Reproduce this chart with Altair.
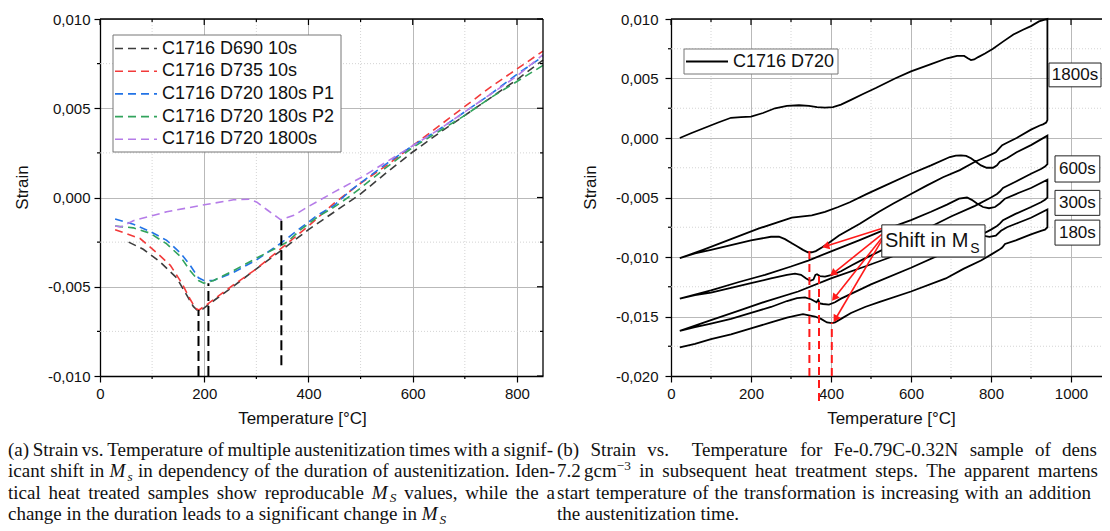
import math
import re
import altair as alt
import pandas as pd

# ---------------------------------------------------------------- (a) data
series_names = ["C1716 D690 10s", "C1716 D735 10s", "C1716 D720 180s P1",
                "C1716 D720 180s P2", "C1716 D720 1800s"]
series_colors = ["#3c3c3c", "#f23a3a", "#2273e6", "#32a35c", "#b57ce8"]

d690_T = [55, 83, 115, 147, 167, 179, 186, 195, 208, 250, 300, 346, 400, 450, 500,
          550, 600, 650, 700, 750, 800, 850]
d690_strain = [-0.0025, -0.0029, -0.0036, -0.0045, -0.0055, -0.0061, -0.0063, -0.0063,
               -0.0060, -0.0051, -0.0040, -0.0030, -0.0018, -0.0008, 0.0002, 0.0014,
               0.00255, 0.0036, 0.0046, 0.0056, 0.0066, 0.0077]
d735_T = [29, 77, 109, 135, 157, 173, 183, 190, 205, 256, 300, 350, 400, 450, 500,
          550, 600, 650, 700, 750, 800, 850]
d735_strain = [-0.0018, -0.0023, -0.0031, -0.0038, -0.0048, -0.0057, -0.0062, -0.0063,
               -0.0060, -0.0049, -0.0040, -0.0028, -0.0016, -0.0003, 0.0008, 0.0018,
               0.0029, 0.0040, 0.0051, 0.0062, 0.0072, 0.0082]
p1_T = [29, 64, 96, 128, 154, 173, 189, 199, 218, 256, 300, 340, 359, 385, 417, 449,
        481, 506, 550, 600, 650, 700, 750, 800, 850]
p1_strain = [-0.0012, -0.0015, -0.0019, -0.0024, -0.0031, -0.0038, -0.0045, -0.00465,
             -0.00465, -0.0042, -0.0035, -0.0027, -0.0023, -0.0017, -0.0010, -0.00045,
             0.0004, 0.00095, 0.0019, 0.0029, 0.0038, 0.0048, 0.0058, 0.0069, 0.0079]
p2_T = [29, 64, 96, 128, 154, 173, 189, 199, 218, 256, 300, 340, 359, 385, 417, 449,
        481, 506, 550, 600, 650, 700, 750, 800, 850]
p2_strain = [-0.0016, -0.0017, -0.0020, -0.0026, -0.0033, -0.0041, -0.00465, -0.0048,
             -0.00465, -0.0041, -0.0034, -0.0028, -0.0025, -0.0018, -0.0011, -0.00054,
             0.0001, 0.00067, 0.0017, 0.0028, 0.0037, 0.0046, 0.0056, 0.0065, 0.0074]
s1800_T = [29, 40, 64, 128, 192, 256, 288, 301, 321, 340, 347, 372, 400, 449, 506, 550,
           600, 650, 700, 750, 800, 850]
s1800_strain = [-0.0016, -0.00165, -0.0013, -0.0008, -0.00045, -0.00013, -0.0001,
                -0.00026, -0.0007, -0.0011, -0.00125, -0.0010, -0.0005, 0.0003, 0.0012,
                0.0020, 0.0029, 0.0038, 0.0048, 0.0058, 0.0068, 0.0080]

ms_a_T = [189, 208, 348]
ms_a_top = [-0.0063, -0.0048, -0.0013]
ms_a_bottom = [-0.0100, -0.0100, -0.0094]

# ---------------------------------------------------------------- (b) data
heat1800_T = [22, 50, 80, 118, 150, 175, 200, 230, 260, 290, 320, 345, 365, 385, 405, 425,
              450, 480, 512, 560, 600, 650, 690, 715, 733, 742, 750, 758, 768, 785, 805,
              830, 856, 880, 900, 920, 941]
heat1800_strain = [0.0, 0.0004, 0.0008, 0.0013, 0.0017, 0.00175, 0.0018, 0.0021, 0.0025,
                   0.0027, 0.00275, 0.0027, 0.0026, 0.00255, 0.0026, 0.0028, 0.0032,
                   0.0037, 0.0042, 0.0050, 0.0056, 0.0062, 0.0067, 0.0069, 0.0069, 0.0067,
                   0.00655, 0.0066, 0.0068, 0.0071, 0.0075, 0.0081, 0.0087, 0.0091, 0.0094,
                   0.0098, 0.0100]
cool1800_T = [941, 938, 930, 922, 900, 864, 840, 828, 820, 812, 800, 780, 760, 722, 680,
              639, 600, 556, 520, 472, 420, 395, 377, 362, 352, 342, 330, 315, 300, 285,
              270, 250, 200, 150, 100, 60, 22]
cool1800_strain = [0.0015, 0.0013, 0.00115, 0.00105, 0.0007, 0.0000, -0.0004, -0.0006,
                   -0.0009, -0.0012, -0.0014, -0.0017, -0.0020, -0.0027, -0.0033, -0.0040,
                   -0.0047, -0.0055, -0.0062, -0.0072, -0.0082, -0.0088, -0.0092, -0.0095,
                   -0.0096, -0.0096, -0.0094, -0.0091, -0.0088, -0.0085, -0.0083, -0.0083,
                   -0.0086, -0.0090, -0.0094, -0.0097, -0.0101]
heat600_T = [22, 80, 150, 220, 302, 352, 385, 418, 447, 490, 535, 600, 650, 697, 712, 725,
             738, 750, 762, 775, 789, 805, 815, 822, 840, 864, 900, 941]
heat600_strain = [-0.0101, -0.0094, -0.0085, -0.0076, -0.0067, -0.0065, -0.0062, -0.0058,
                  -0.0054, -0.0047, -0.0040, -0.0030, -0.0023, -0.0016, -0.00148, -0.00146,
                  -0.0015, -0.0017, -0.0020, -0.0023, -0.0025, -0.0025, -0.0023, -0.0020,
                  -0.0017, -0.0012, -0.0006, 0.0002]
cool600_T = [941, 935, 925, 900, 860, 830, 822, 815, 800, 760, 700, 640, 600, 535, 480,
             452, 425, 402, 385, 372, 365, 361, 356, 348, 338, 325, 310, 290, 250, 200,
             150, 100, 60, 22]
cool600_strain = [-0.0022, -0.0024, -0.0026, -0.0030, -0.0037, -0.0042, -0.0045, -0.0047,
                  -0.0050, -0.0057, -0.0066, -0.0076, -0.0082, -0.0093, -0.0102, -0.0107,
                  -0.0112, -0.0115, -0.01165, -0.0116, -0.01145, -0.0115, -0.0119, -0.0120,
                  -0.0118, -0.0115, -0.0114, -0.0115, -0.0118, -0.0122, -0.0126, -0.0130,
                  -0.0132, -0.0135]
heat300_T = [22, 100, 170, 235, 300, 343, 402, 470, 535, 600, 650, 690, 720, 740, 752, 765,
             780, 795, 810, 822, 835, 870, 900, 941]
heat300_strain = [-0.0135, -0.0128, -0.0121, -0.0115, -0.0108, -0.0103, -0.0095, -0.0086,
                  -0.0077, -0.0069, -0.0062, -0.0056, -0.0051, -0.0050, -0.0052, -0.0055,
                  -0.0058, -0.0059, -0.0058, -0.0055, -0.0051, -0.0046, -0.0042, -0.0035]
cool300_T = [941, 935, 925, 900, 860, 830, 822, 815, 800, 760, 700, 600, 500, 450, 425,
             410, 395, 380, 372, 368, 364, 358, 350, 335, 315, 290, 250, 200, 150, 100,
             60, 22]
cool300_strain = [-0.0050, -0.0052, -0.0054, -0.0058, -0.0064, -0.0069, -0.0072, -0.0074,
                  -0.0077, -0.0084, -0.0094, -0.0109, -0.0123, -0.0131, -0.0135, -0.0138,
                  -0.0140, -0.01395, -0.0139, -0.0136, -0.0138, -0.0137, -0.01355, -0.0134,
                  -0.01345, -0.0137, -0.0142, -0.0147, -0.0152, -0.0156, -0.0159, -0.0162]
heat180_T = [22, 100, 170, 240, 318, 400, 485, 550, 600, 650, 700, 730, 750, 765, 780, 796,
             812, 825, 840, 870, 900, 941]
heat180_strain = [-0.0162, -0.0153, -0.0145, -0.0137, -0.0129, -0.0118, -0.0108, -0.0100,
                  -0.0093, -0.0086, -0.0079, -0.0075, -0.0076, -0.0079, -0.0082, -0.0083,
                  -0.0082, -0.0078, -0.0075, -0.0071, -0.0067, -0.0060]
cool180_T = [941, 935, 925, 900, 862, 835, 828, 820, 800, 775, 731, 687, 600, 520, 485,
             450, 425, 410, 403, 390, 375, 360, 345, 330, 315, 290, 250, 200, 150, 100,
             60, 22]
cool180_strain = [-0.0075, -0.0077, -0.0078, -0.0081, -0.0086, -0.0089, -0.0092, -0.0094,
                  -0.0098, -0.0103, -0.0110, -0.0118, -0.0129, -0.0138, -0.0142, -0.0147,
                  -0.0152, -0.0155, -0.01555, -0.0155, -0.0152, -0.0150, -0.0149, -0.0148,
                  -0.0149, -0.0151, -0.0155, -0.0160, -0.0165, -0.0169, -0.0173, -0.0176]

ms_b_T = [346, 370, 402]
ms_b_top = [-0.0095, -0.0116, -0.0155]
ms_b_bottom = [-0.0200, -0.0221, -0.0200]

arrow_T0 = [527, 527, 527, 527]
arrow_strain0 = [-0.0076, -0.0081, -0.0084, -0.0086]
arrow_T1 = [377, 397, 402, 406]
arrow_strain1 = [-0.0092, -0.0116, -0.0137, -0.0155]

time_labels = ["1800s", "600s", "300s", "180s"]
time_box_T0 = [945, 960, 960, 960]
time_box_T1 = [1075, 1072, 1072, 1072]
time_box_top = [0.0063, -0.0015, -0.0044, -0.0069]
time_box_bottom = [0.0043, -0.0037, -0.0065, -0.0090]

shift_box_T = [527, 785]
shift_box_strain = [-0.0073, -0.0100]
shift_text = "Shift in M"
shift_sub = "S"

legend_b_label = "C1716 D720"

caption_a = [
    "(a) Strain vs. Temperature of multiple austenitization times with a signif-",
    "icant shift in {M}{_s} in dependency of the duration of austenitization. Iden-",
    "tical heat treated samples show reproducable {M}{_S} values, while the a",
    "change in the duration leads to a significant change in {M}{_S}",
]
caption_b = [
    "(b) Strain vs.  Temperature for Fe-0.79C-0.32N sample of density",
    "7.2{=}gcm{^\u22123} in subsequent heat treatment steps. The apparent martensite",
    "start temperature of the transformation is increasing with an addition of",
    "the austenitization time.",
]

# ---------------------------------------------------------------- layout
LW, LH = 443, 357
RW, RH = 440, 357
L_LEFT, R_LEFT = 100, 671          # page x of the two plot areas
FONT = "Liberation Sans"
SERIF = "Liberation Serif"
GRID = "#b9b9b9"
MINOR = "#cfcfcf"

lx = alt.Scale(domain=[0, 850], nice=False, zero=False)
ly = alt.Scale(domain=[-0.01, 0.01], nice=False, zero=False)
rx = alt.Scale(domain=[0, 1100], nice=False, zero=False)
ry = alt.Scale(domain=[-0.02, 0.01], nice=False, zero=False)

strain_expr = "(datum.value < 0 ? '-' : '') + replace(format(abs(datum.value), '.3f'), '.', ',')"


def x_axis(values, title_x):
    return alt.Axis(values=values, format="d", title="Temperature [°C]", grid=True,
                    gridColor=GRID, gridWidth=1, tickSize=6, tickWidth=1.2,
                    tickColor="black", domainColor="black", domainWidth=1.3,
                    labelFont=FONT, labelFontSize=15, labelColor="#111", labelPadding=4,
                    labelFlush=False, labelOverlap=False, titleFont=FONT, titleFontSize=17,
                    titleFontWeight="normal", titleColor="#111", titlePadding=9,
                    titleX=title_x)


def y_axis(values, pad):
    return alt.Axis(values=values, title="Strain", labelExpr=strain_expr, grid=True,
                    gridColor=GRID, gridWidth=1, tickSize=6, tickWidth=1.2,
                    tickColor="black", domainColor="black", domainWidth=1.3,
                    labelFont=FONT, labelFontSize=15, labelColor="#111", labelPadding=pad,
                    labelFlush=False, labelOverlap=False, titleFont=FONT, titleFontSize=17,
                    titleFontWeight="normal", titleColor="#111", titlePadding=16,
                    titleY=168)


one = pd.DataFrame({"k": [0]})


class Enc:
    def __init__(self, xs, ys, xa, ya):
        self.xs, self.ys, self.xa, self.ya = xs, ys, xa, ya

    def X(self, f="T"):
        return alt.X(f"{f}:Q", scale=self.xs, axis=self.xa)

    def Y(self, f="strain"):
        return alt.Y(f"{f}:Q", scale=self.ys, axis=self.ya)


def frame_layers(E, W, H, x_major, x_minor, y_major, y_minor):
    layers = []
    layers.append(alt.Chart(pd.DataFrame({"T": x_minor})).mark_rule(
        color=MINOR, strokeWidth=0.9, strokeDash=[1, 2]).encode(
        x=E.X(), y=alt.value(0), y2=alt.value(H)))
    layers.append(alt.Chart(pd.DataFrame({"strain": y_minor})).mark_rule(
        color=MINOR, strokeWidth=0.9, strokeDash=[1, 2]).encode(
        y=E.Y(), x=alt.value(0), x2=alt.value(W)))
    # outward minor ticks (bottom, left)
    layers.append(alt.Chart(pd.DataFrame({"T": x_minor})).mark_rule(
        color="black", strokeWidth=1.2).encode(
        x=E.X(), y=alt.value(H), y2=alt.value(H + 3)))
    layers.append(alt.Chart(pd.DataFrame({"strain": y_minor})).mark_rule(
        color="black", strokeWidth=1.2).encode(
        y=E.Y(), x=alt.value(-3), x2=alt.value(0)))
    # inward ticks on top and right
    for vals, ln in ((x_major, 6), (x_minor, 3)):
        layers.append(alt.Chart(pd.DataFrame({"T": vals})).mark_rule(
            color="black", strokeWidth=1.2).encode(
            x=E.X(), y=alt.value(0), y2=alt.value(ln)))
    for vals, ln in ((y_major, 6), (y_minor, 3)):
        layers.append(alt.Chart(pd.DataFrame({"strain": vals})).mark_rule(
            color="black", strokeWidth=1.2).encode(
            y=E.Y(), x=alt.value(W - ln), x2=alt.value(W)))
    layers.append(alt.Chart(one).mark_rule(color="black", strokeWidth=1.3).encode(
        x=alt.value(0), x2=alt.value(W), y=alt.value(0)))
    layers.append(alt.Chart(one).mark_rule(color="black", strokeWidth=1.3).encode(
        x=alt.value(W), y=alt.value(0), y2=alt.value(H)))
    return layers


# ---------------------------------------------------------------- left panel
rows = []
for name, T, S in zip(series_names,
                      [d690_T, d735_T, p1_T, p2_T, s1800_T],
                      [d690_strain, d735_strain, p1_strain, p2_strain, s1800_strain]):
    for t, s in zip(T, S):
        rows.append({"T": t, "strain": s, "series": name})
left_df = pd.DataFrame(rows)

lx_major = [0, 200, 400, 600, 800]
lx_minor = [100, 300, 500, 700]
ly_major = [-0.01, -0.005, 0.0, 0.005, 0.01]
ly_minor = [-0.0075, -0.0025, 0.0025, 0.0075]

EL = Enc(lx, ly, x_axis(lx_major, 202), y_axis(ly_major, 4))
left_layers = frame_layers(EL, LW, LH, lx_major, lx_minor, ly_major, ly_minor)

left_lines = alt.Chart(left_df).mark_line(strokeDash=[8, 5], strokeWidth=1.6).encode(
    x=EL.X(), y=EL.Y(),
    color=alt.Color("series:N", scale=alt.Scale(domain=series_names, range=series_colors),
                    legend=None),
)
left_layers.insert(2, left_lines)

ms_a_df = pd.DataFrame({"T": ms_a_T, "strain": ms_a_bottom, "strain2": ms_a_top})
left_layers.append(alt.Chart(ms_a_df).mark_rule(color="black", strokeWidth=2,
                                                strokeDash=[10, 5]).encode(
    x=EL.X(), y=EL.Y(), y2="strain2:Q"))

# legend (a), drawn in pixel space inside the plot area
left_layers.append(alt.Chart(one).mark_rect(fill="white", stroke="#777", strokeWidth=1).encode(
    x=alt.value(13), x2=alt.value(241), y=alt.value(16), y2=alt.value(133)))
for i, (name, col) in enumerate(zip(series_names, series_colors)):
    yy = 29.5 + 22.7 * i
    left_layers.append(alt.Chart(one).mark_rule(color=col, strokeWidth=1.6,
                                                strokeDash=[8, 5]).encode(
        x=alt.value(15), x2=alt.value(57), y=alt.value(yy)))
    left_layers.append(alt.Chart(one).mark_text(align="left", baseline="middle", font=FONT,
                                                fontSize=18, color="#111").encode(
        x=alt.value(62), y=alt.value(yy), text=alt.value(name)))

left = alt.layer(*left_layers).properties(width=LW, height=LH)

# ---------------------------------------------------------------- right panel
segs = [(heat1800_T, heat1800_strain), (cool1800_T, cool1800_strain),
        (heat600_T, heat600_strain), (cool600_T, cool600_strain),
        (heat300_T, heat300_strain), (cool300_T, cool300_strain),
        (heat180_T, heat180_strain), (cool180_T, cool180_strain)]
rrows = []
for T, S in segs:
    for t, s in zip(T, S):
        rrows.append({"T": t, "strain": s, "i": len(rrows)})
right_df = pd.DataFrame(rrows)

rx_major = [0, 200, 400, 600, 800, 1000]
rx_minor = [100, 300, 500, 700, 900]
ry_major = [-0.02, -0.015, -0.01, -0.005, 0.0, 0.005, 0.01]
ry_minor = [-0.0175, -0.0125, -0.0075, -0.0025, 0.0025, 0.0075]

ER = Enc(rx, ry, x_axis(rx_major, RW / 2), y_axis(ry_major, 7))
right_layers = frame_layers(ER, RW, RH, rx_major, rx_minor, ry_major, ry_minor)

right_line = alt.Chart(right_df).mark_line(color="black", strokeWidth=1.8).encode(
    x=ER.X(), y=ER.Y(), order=alt.Order("i:Q"))
right_layers.insert(2, right_line)

ms_b_df = pd.DataFrame({"T": ms_b_T, "strain": ms_b_bottom, "strain2": ms_b_top})
right_layers.append(alt.Chart(ms_b_df).mark_rule(color="#ff1a1a", strokeWidth=2,
                                                 strokeDash=[8, 5]).encode(
    x=ER.X(), y=ER.Y(), y2="strain2:Q"))

# arrows
kx = RW / 1100.0
ky = RH / 0.03
arr = []
for t0, s0, t1, s1 in zip(arrow_T0, arrow_strain0, arrow_T1, arrow_strain1):
    dx = (t1 - t0) * kx
    dy = -(s1 - s0) * ky
    L = math.hypot(dx, dy)
    ux, uy = dx / L, dy / L
    ang = math.degrees(math.atan2(ux, -uy)) % 360
    arr.append({"T": t0, "strain": s0, "T2": t1 - 4 * ux / kx, "strain2": s1 + 4 * uy / ky,
                "ang": ang})
arr_df = pd.DataFrame(arr)
right_layers.append(alt.Chart(arr_df).mark_rule(color="#ff1a1a", strokeWidth=1.6).encode(
    x=ER.X(), y=ER.Y(), x2="T2:Q", y2="strain2:Q"))
head_df = arr_df[["T2", "strain2", "ang"]].rename(columns={"T2": "T", "strain2": "strain"})
right_layers.append(alt.Chart(head_df).mark_point(shape="triangle-up", filled=True,
                                                  color="#ff1a1a", size=70,
                                                  opacity=1).encode(
    x=ER.X(), y=ER.Y(), angle=alt.Angle("ang:Q", scale=None)))

# "Shift in M_S" box
right_layers.append(alt.Chart(pd.DataFrame({
    "T": [shift_box_T[0]], "T2": [shift_box_T[1]],
    "strain": [shift_box_strain[0]], "strain2": [shift_box_strain[1]]})).mark_rect(
    fill="white", stroke="#222", strokeWidth=1).encode(
    x=ER.X(), x2="T2:Q", y=ER.Y(), y2="strain2:Q"))
right_layers.append(alt.Chart(pd.DataFrame({"T": [535], "strain": [-0.0092],
                                            "t": [shift_text]})).mark_text(
    align="left", baseline="alphabetic", font=FONT, fontSize=20, color="#111").encode(
    x=ER.X(), y=ER.Y(), text="t:N"))
right_layers.append(alt.Chart(pd.DataFrame({"T": [748], "strain": [-0.00965],
                                            "t": [shift_sub]})).mark_text(
    align="left", baseline="alphabetic", font=FONT, fontSize=14, color="#111").encode(
    x=ER.X(), y=ER.Y(), text="t:N"))

# time labels
tb = pd.DataFrame({"T": time_box_T0, "T2": time_box_T1, "strain": time_box_top,
                   "strain2": time_box_bottom, "label": time_labels})
right_layers.append(alt.Chart(tb).mark_rect(fill="white", stroke="#222", strokeWidth=1).encode(
    x=ER.X(), x2="T2:Q", y=ER.Y(), y2="strain2:Q"))
tc = pd.DataFrame({"T": [(a + b) / 2 for a, b in zip(time_box_T0, time_box_T1)],
                   "strain": [(a + b) / 2 for a, b in zip(time_box_top, time_box_bottom)],
                   "label": time_labels})
right_layers.append(alt.Chart(tc).mark_text(align="center", baseline="middle", font=FONT,
                                            fontSize=17, color="#111").encode(
    x=ER.X(), y=ER.Y(), text="label:N"))

# legend (b)
right_layers.append(alt.Chart(one).mark_rect(fill="white", stroke="#777", strokeWidth=1).encode(
    x=alt.value(13), x2=alt.value(167), y=alt.value(30), y2=alt.value(55)))
right_layers.append(alt.Chart(one).mark_rule(color="black", strokeWidth=1.8).encode(
    x=alt.value(15), x2=alt.value(57), y=alt.value(42.5)))
right_layers.append(alt.Chart(one).mark_text(align="left", baseline="middle", font=FONT,
                                             fontSize=18, color="#111").encode(
    x=alt.value(62), y=alt.value(42.5), text=alt.value(legend_b_label)))

right = alt.layer(*right_layers).properties(width=RW, height=RH)

# ---------------------------------------------------------------- captions
TNR = {" ": 250, "(": 333, ")": 333, ".": 250, ",": 250, "-": 333, "\u2212": 564,
       "A": 722, "B": 667, "C": 667, "D": 722, "E": 611, "F": 556, "G": 722, "H": 722,
       "I": 333, "J": 389, "K": 722, "L": 611, "M": 889, "N": 722, "O": 722, "P": 556,
       "Q": 722, "R": 667, "S": 556, "T": 611, "U": 722, "V": 722, "W": 944, "X": 722,
       "Y": 722, "Z": 611, "a": 444, "b": 500, "c": 444, "d": 500, "e": 444, "f": 333,
       "g": 500, "h": 500, "i": 278, "j": 278, "k": 500, "l": 278, "m": 778, "n": 500,
       "o": 500, "p": 500, "q": 500, "r": 333, "s": 389, "t": 278, "u": 500, "v": 500,
       "w": 722, "x": 500, "y": 500, "z": 444}
TNR_IT = {"M": 833, "S": 500, "s": 389}
CFS = 19.0


def tw(text, style):
    if style == "thin":
        return 0.17 * CFS
    tot = 0
    for ch in text:
        if style in ("i", "isub"):
            tot += TNR_IT.get(ch, TNR.get(ch, 500))
        else:
            tot += TNR.get(ch, 500)
    sc = 0.7 if style in ("isub", "sup") else 1.0
    return tot / 1000.0 * CFS * sc


def parse_word(w):
    parts, pos = [], 0
    for m in re.finditer(r"\{([_^=]?)([^}]*)\}", w):
        if m.start() > pos:
            parts.append((w[pos:m.start()], "n"))
        style = {"": "i", "_": "isub", "^": "sup", "=": "thin"}[m.group(1)]
        parts.append((m.group(2), style))
        pos = m.end()
    if pos < len(w):
        parts.append((w[pos:], "n"))
    return parts


def layout_line(line, x0, target, limit):
    words = line.split(" ")
    widths = [sum(tw(t, s) for t, s in parse_word(w)) for w in words]
    sp = 0.25 * CFS
    gaps = len(words) - 1
    natural = sum(widths) + sp * gaps
    gap = sp if (target is None or gaps == 0) else sp + (target - x0 - natural) / gaps
    out, x = [], x0
    for w in words:
        for t, s in parse_word(w):
            wd = tw(t, s)
            if s == "isub":
                x += 2.0
            if s != "thin" and t:
                if limit is not None and x + wd > limit:
                    while t and x + tw(t, s) > limit:
                        t = t[:-1]
                    if t:
                        out.append((x, t, s))
                    return out
                out.append((x, t, s))
            x += wd
        x += gap
    return out


def caption_chart(lines, x0, targets, limit, origin, width):
    rows_ = []
    for li, line in enumerate(lines):
        base = 17 + 21.4 * li
        for x, t, s in layout_line(line, x0, targets[li], limit):
            dy = 3.5 if s == "isub" else (-7 if s == "sup" else 0)
            rows_.append({"px": x - origin, "py": base + dy, "text": t, "style": s})
    df = pd.DataFrame(rows_)
    cx = alt.Scale(domain=[0, width], range=[0, width])
    cy = alt.Scale(domain=[0, 80], range=[0, 80])
    layers = []
    for style, fs, it in (("n", CFS, "normal"), ("i", CFS, "italic"),
                          ("isub", CFS * 0.7, "italic"), ("sup", CFS * 0.7, "normal")):
        sub = df[df["style"] == style]
        if len(sub) == 0:
            continue
        layers.append(alt.Chart(sub).mark_text(
            align="left", baseline="alphabetic", font=SERIF, fontSize=fs, fontStyle=it,
            color="#111").encode(
            x=alt.X("px:Q", scale=cx, axis=None), y=alt.Y("py:Q", scale=cy, axis=None),
            text="text:N"))
    return alt.layer(*layers).properties(width=width, height=80)


cap_a = caption_chart(caption_a, 8, [553, 553, 553, None], None, L_LEFT, LW)
cap_b = caption_chart(caption_b, 557, [1117, 1117, 1113, None], 1101, R_LEFT, RW)

# ---------------------------------------------------------------- assemble
chart = alt.concat(left, right, cap_a, cap_b, columns=2, bounds="flush",
                   spacing={"row": 63, "column": 128}).properties(
    padding={"left": 0, "top": 4, "right": -10, "bottom": 0}
).configure(font=FONT, view=alt.ViewConfig(stroke=None))

chart.save("out.html", embed_options={"renderer": "svg", "actions": False})
